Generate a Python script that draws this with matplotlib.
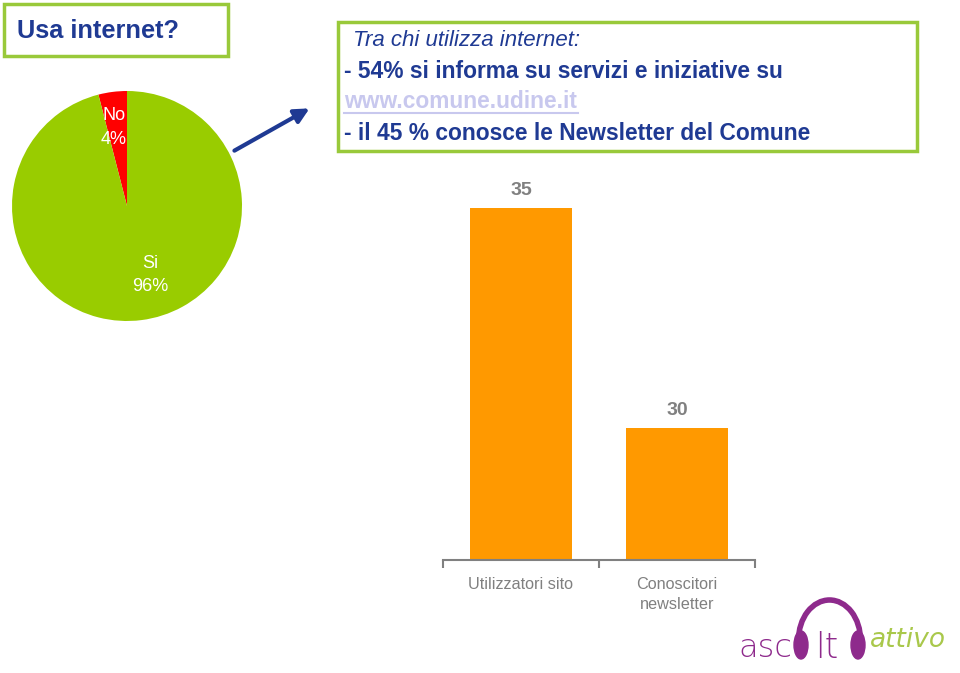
import matplotlib.pyplot as plt
from matplotlib.patches import Arc, Ellipse, FancyArrowPatch

# dati
pie_labels = ['No', 'Si']
pie_values = [4, 96]
pie_colors = ['#FF0000', '#99CC00']

categorie = ['Utilizzatori sito', 'Conoscitori\nnewsletter']
valori = [35, 30]

blu = '#1F3A93'
verde_bordo = '#99C93A'
grigio = '#808080'
viola = '#8E2A8C'

fig = plt.figure(figsize=(9.6, 6.73), dpi=100)

# riquadro titolo
fig.patches.append(plt.Rectangle((4 / 960, 1 - 56 / 673), 224 / 960, 52 / 673,
                                 transform=fig.transFigure, fill=False,
                                 edgecolor=verde_bordo, linewidth=2.5))
fig.text(17 / 960, 1 - 31 / 673, 'Usa internet?', color=blu, fontsize=18.3,
         fontweight='bold', va='center', family='Liberation Sans')

# riquadro testo
fig.patches.append(plt.Rectangle((338 / 960, 1 - 151 / 673), 579 / 960, 129 / 673,
                                 transform=fig.transFigure, fill=False,
                                 edgecolor=verde_bordo, linewidth=2.5))
fig.text(353 / 960, 1 - 41 / 673, 'Tra chi utilizza internet:', color=blu,
         fontsize=16, style='italic', va='center', family='Liberation Sans')
fig.text(344 / 960, 1 - 72 / 673, '- 54% si informa su servizi e iniziative su', color=blu,
         fontsize=16.4, fontweight='bold', va='center', family='Liberation Sans')
fig.text(344 / 960, 1 - 102 / 673, 'www.comune.udine.it', color='#C8C8EE',
         fontsize=16.4, fontweight='bold', va='center', family='Liberation Sans')
fig.lines.append(plt.Line2D([344 / 960, 578 / 960], [1 - 113 / 673, 1 - 113 / 673],
                            transform=fig.transFigure, color='#C8C8EE', linewidth=1.5))
fig.text(344 / 960, 1 - 133 / 673, '- il 45 % conosce le Newsletter del Comune', color=blu,
         fontsize=16.4, fontweight='bold', va='center', family='Liberation Sans')

# freccia
fig.add_artist(FancyArrowPatch(
    (232 / 960, 1 - 152 / 673), (312 / 960, 1 - 107 / 673),
    transform=fig.transFigure, arrowstyle='-|>', mutation_scale=22,
    color=blu, linewidth=3))

# torta
ax1 = fig.add_axes([12 / 960, 1 - 321 / 673, 230 / 960, 230 / 673])
wedges, texts = ax1.pie(pie_values, colors=pie_colors, startangle=90,
                        labels=[f'{l}\n{v}%' for l, v in zip(pie_labels, pie_values)],
                        labeldistance=0.69,
                        textprops=dict(color='white', fontsize=13, ha='center',
                                       va='center', linespacing=1.5,
                                       family='Liberation Sans'))
texts[0].set_x(texts[0].get_position()[0] - 0.03)
texts[1].set_position((0.2, -0.6))
ax1.set_xlim(-1, 1)
ax1.set_ylim(-1, 1)
ax1.set_aspect('equal')
ax1.axis('off')

# barre
ax2 = fig.add_axes([443 / 960, 1 - 560 / 673, 312 / 960, 380 / 673])
x = range(len(valori))
barre = ax2.bar(x, valori, width=0.65, color='#FF9900')
ax2.set_xlim(-0.5, len(valori) - 0.5)
ax2.set_ylim(27, 27 + 380 / 44)
for b, v in zip(barre, valori):
    ax2.text(b.get_x() + b.get_width() / 2, v + 0.2, str(v), ha='center', va='bottom',
             color=grigio, fontsize=14, fontweight='bold', family='Liberation Sans')
for s in ['top', 'left', 'right']:
    ax2.spines[s].set_visible(False)
ax2.spines['bottom'].set_color(grigio)
ax2.spines['bottom'].set_linewidth(1.5)
ax2.set_yticks([])
ax2.set_xticks([-0.5, 0.5, 1.5])
ax2.set_xticklabels([])
ax2.tick_params(axis='x', length=6, color=grigio, width=1.5)
ax2.set_xticks(list(x), minor=True)
ax2.set_xticklabels(categorie, minor=True, color=grigio, fontsize=11.7,
                    linespacing=1.45, family='Liberation Sans')
ax2.tick_params(axis='x', which='minor', length=0, pad=12)

# logo
fig.text(738 / 960, 1 - 648 / 673, 'asc', color=viola, fontsize=23,
         va='center', family='DejaVu Sans', fontweight='light')
fig.text(815 / 960, 1 - 648 / 673, 'lt', color=viola, fontsize=25,
         va='center', family='DejaVu Sans', fontweight='light')
fig.text(870 / 960, 1 - 640 / 673, 'attivo', color='#A9C84B', fontsize=19,
         va='center', style='italic', family='DejaVu Sans')
for cx in (801, 858):
    fig.add_artist(Ellipse((cx / 960, 1 - 645 / 673), 14 / 960, 28 / 673,
                           transform=fig.transFigure, color=viola))
fig.add_artist(Arc((829.5 / 960, 1 - 640 / 673), 62 / 960, 80 / 673,
                   theta1=0, theta2=180, transform=fig.transFigure,
                   color=viola, linewidth=4))

fig.savefig('out.png', dpi=100)
